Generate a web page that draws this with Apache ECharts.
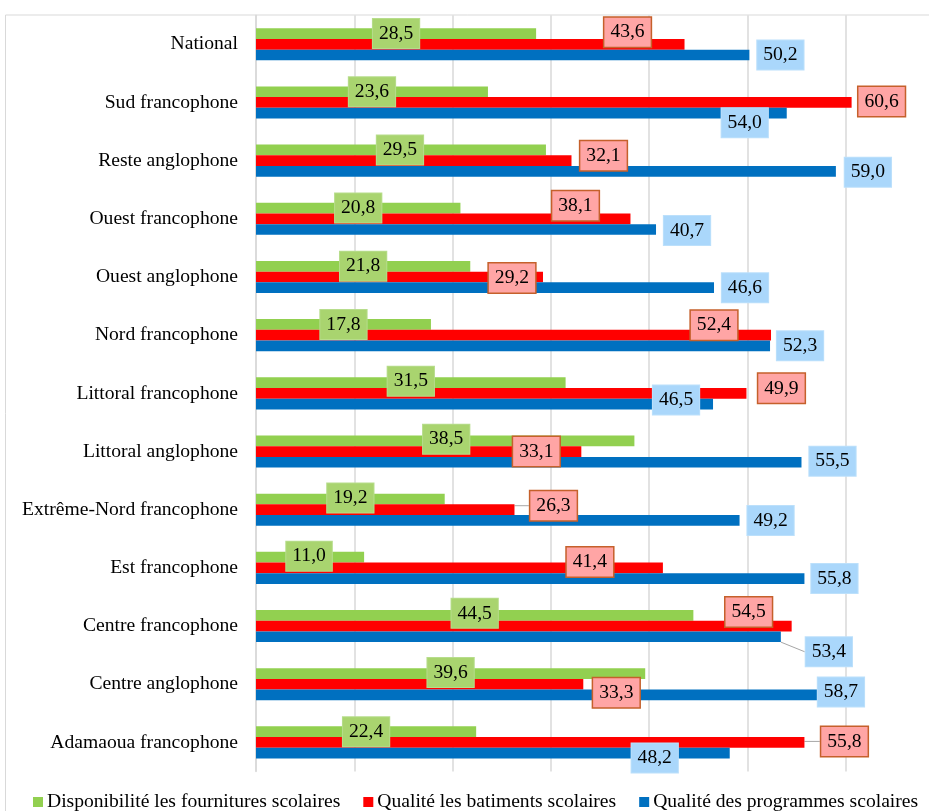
<!DOCTYPE html>
<html><head><meta charset="utf-8">
<script src="https://cdn.jsdelivr.net/npm/echarts@6/dist/echarts.min.js"></script>
<style>html,body{margin:0;padding:0;background:#fff}#c{width:929px;height:811px}</style>
</head><body><div id="c"></div>
<script>
const categories = ["National","Sud francophone","Reste anglophone","Ouest francophone","Ouest anglophone","Nord francophone","Littoral francophone","Littoral anglophone","Extrême-Nord francophone","Est francophone","Centre francophone","Centre anglophone","Adamaoua francophone"];
const seriesNames = ["Disponibilité les fournitures scolaires","Qualité les batiments scolaires","Qualité des programmes scolaires"];
const fournitures = [28.5,23.6,29.5,20.8,21.8,17.8,31.5,38.5,19.2,11.0,44.5,39.6,22.4];
const batiments   = [43.6,60.6,32.1,38.1,29.2,52.4,49.9,33.1,26.3,41.4,54.5,33.3,55.8];
const programmes  = [50.2,54.0,59.0,40.7,46.6,52.3,46.5,55.5,49.2,55.8,53.4,58.7,48.2];
const axisMin = 0, axisMax = 70, axisStep = 10;

// label placement (layout only): [dx, dy] from bar middle (first series) or bar end (others)
const offFournitures = [[0,0],[0,0],[-1,0],[0,0],[0,0],[0,0],[0,-1.5],[1,-1.5],[0,-1],[-1,-1],[0,-2],[0,-1],[0,0]];
const offBatiments   = [[-57,-12],[30,-1],[32,-5],[-55,-13],[-31,1],[-57,-10],[35,-5],[-45,0],[39,-4],[-73,-6],[-43,-14],[33,8.5],[40,-1]];
const offProgrammes  = [[31,0],[-42,9.6],[32,1],[31,1],[31,0],[30,0],[-37,-4],[31,-1],[31,0],[30,0],[48,15],[8,-3],[-75,5]];
const leaderBatiments = [8,12];
const leaderProgrammes = [10];

const colors = ['#92D050','#FF0000','#0070C0'];
const labelBg = ['#A9D46F','#FFA5A5','#AAD7FB'];
const labelBorder = ['#B7DD8C','#C5602B','#BCE0FB'];
const FONT = '"Liberation Serif","Times New Roman",serif';
const FS = 19.6;

function fmt(v){ return v.toFixed(1).replace('.', ','); }

function makeSeries(idx, values, offs, leaders, pos){
  return {
    name: seriesNames[idx], type: 'bar', barWidth: 10.7, barGap: '0%',
    itemStyle: {color: colors[idx]},
    label: {
      show: true, position: pos, align: 'center', verticalAlign: 'middle',
      formatter: p => fmt(p.value), fontFamily: FONT, fontSize: FS, lineHeight: 22,
      color: '#000', backgroundColor: labelBg[idx], borderColor: labelBorder[idx],
      borderWidth: idx === 1 ? 1.5 : 1, padding: [4, 6, 3, 6]
    },
    labelLine: {show: false, lineStyle: {color: '#A6A6A6', width: 1}},
    data: values.map((v, i) => ({
      value: v,
      label: {offset: offs[i]},
      labelLine: {show: leaders.indexOf(i) >= 0}
    }))
  };
}

const chart = echarts.init(document.getElementById('c'), null, {renderer: 'canvas'});
chart.setOption({
  animation: false,
  backgroundColor: '#fff',
  grid: {left: 256, right: -15, top: 15.2, bottom: 39.5, containLabel: false, outerBoundsMode: 'none'},
  xAxis: {type: 'value', min: axisMin, max: axisMax, interval: axisStep,
    axisLabel: {show: false}, axisLine: {show: false}, axisTick: {show: false},
    splitLine: {show: true, lineStyle: {color: '#D9D9D9', width: 1.5}}},
  yAxis: {type: 'category', data: categories, inverse: true,
    axisLine: {show: true, lineStyle: {color: '#D9D9D9', width: 1.5}},
    axisTick: {show: false},
    axisLabel: {fontFamily: FONT, fontSize: FS, color: '#000', margin: 18}},
  legend: {left: 33, top: 792, padding: 0, itemWidth: 10, itemHeight: 10, itemGap: 23,
    icon: 'rect', textStyle: {fontFamily: FONT, fontSize: FS, color: '#000', padding: [0,0,0,-1]},
    data: seriesNames},
  graphic: [{type: 'rect', shape: {x: 5.5, y: 15, width: 1000, height: 1000},
    style: {fill: null, stroke: '#D9D9D9', lineWidth: 1}, silent: true, z: -1}],
  series: [
    makeSeries(0, fournitures, offFournitures, [], ['50%','50%']),
    makeSeries(1, batiments, offBatiments, leaderBatiments, ['100%','50%']),
    makeSeries(2, programmes, offProgrammes, leaderProgrammes, ['100%','50%'])
  ]
});
</script></body></html>
